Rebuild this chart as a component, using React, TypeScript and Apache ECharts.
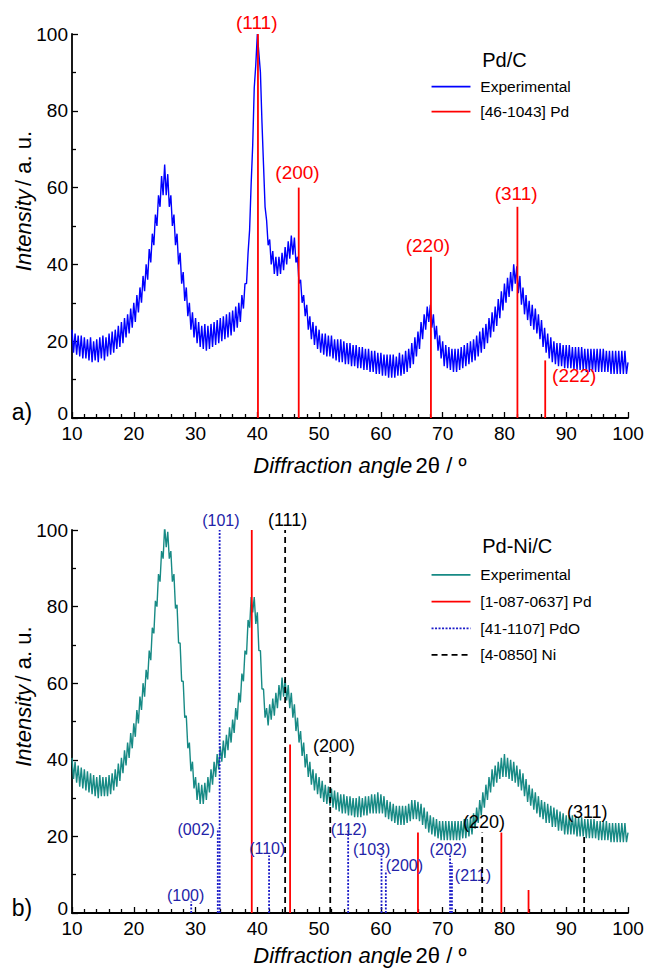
import React, { useEffect, useRef } from "react";
import * as echarts from "echarts";

// ---------- data ----------
const angleStart = 10;
const angleStep = 0.25;

// Pd/C experimental pattern, 10°..100° every 0.25°
const pdcIntensity = [
  23, 17, 22, 16.5, 21.5, 16, 21.5, 15.5, 21, 15.5, 20.5, 15, 21, 14.5, 20, 15, 20.5, 14.5, 21, 15.5,
  21.5, 15, 21, 16, 22, 16.5, 22.5, 17, 23, 18, 24, 18.5, 25, 19.5, 26, 21, 27, 22, 28.5, 23.5,
  30, 25, 32, 27.5, 34, 30, 37, 33, 40, 36, 44, 40.5, 48, 45, 53, 50, 58, 55, 63, 58,
  66, 58, 63.5, 55, 58, 50, 53, 45, 48, 40, 43, 35, 38, 30.5, 34, 26.5, 30, 23, 27.5, 21,
  26, 19.5, 25, 18.5, 24, 18, 24.5, 17.5, 24, 18, 24.5, 18.5, 25, 19, 25.5, 19.5, 26, 20, 26.5, 20.5,
  27, 21, 27.5, 21.5, 28, 22.5, 29, 23.5, 30, 25, 32, 28.5, 35, 35, 43, 49, 61, 71, 86, 92,
  100, 95, 90, 77, 66, 55, 51.5, 45, 46.5, 40, 43.5, 37.5, 42, 37, 42, 37.5, 43, 38.5, 44.5, 40,
  46, 41.5, 47.5, 42.5, 47, 40.5, 42, 35, 36, 30, 32, 26.5, 29.5, 23, 26.5, 20.5, 25, 19, 24, 18,
  23, 17, 22, 16.5, 22, 16, 21.5, 16, 21.5, 15.5, 20.5, 15, 20.5, 14.5, 20.5, 14.5, 20, 14, 19.5, 14,
  19.5, 13.5, 19, 13.5, 19, 13, 18.5, 13, 18.5, 12.5, 18, 12.5, 18, 12, 17.5, 12, 17.5, 11.5, 17, 11.5,
  17, 11, 16.5, 11, 16.5, 10.5, 16.5, 10.5, 16.5, 10.5, 16, 11, 17, 11, 16.5, 11.5, 17.5, 12, 18, 13,
  19.5, 14, 21, 16, 22.5, 18, 25, 20.5, 27, 23, 29, 25, 29.5, 23.5, 27, 20.5, 24, 17.5, 21.5, 15.5,
  20, 13.5, 19, 13, 18.5, 12.5, 18, 12, 18, 12, 18, 12.5, 18.5, 13, 19, 13.5, 19.5, 14, 20, 14.5,
  20.5, 15, 21.5, 16, 22.5, 17, 23.5, 18, 24.5, 19.5, 26, 21, 27.5, 22.5, 29, 24, 31, 26, 33, 28,
  35, 30, 36.5, 31.5, 38, 33, 40, 35, 39.5, 32.5, 37, 29.5, 34, 27, 32, 25.5, 30.5, 24, 29.5, 23,
  28.5, 22, 27, 20.5, 25.5, 18.5, 23.5, 17, 22, 15.5, 21, 14.5, 20, 14, 19.5, 13.5, 19.5, 13.5, 19, 13,
  19, 13, 19, 13, 18.5, 12.5, 18.5, 12.5, 18.5, 12.5, 18.5, 12.5, 18, 12, 18, 12, 18, 12, 18, 12,
  18, 12, 18, 12, 18, 12, 17.5, 12, 17.5, 11.5, 17.5, 11.5, 17.5, 11.5, 17.5, 11.5, 17.5, 11.5, 17.5, 11.5,
  14.5,
];

// Pd-Ni/C experimental pattern, 10°..100° every 0.25°
const pdniIntensity = [
  40.5, 35, 39.5, 34, 38.5, 33, 38, 32.5, 37.5, 32, 37, 31.5, 36.5, 31, 36, 30.5, 35.5, 30, 36, 30.5,
  35.5, 30.5, 35.5, 30.5, 36, 31, 36.5, 32, 37.5, 33, 39, 34.5, 40.5, 36.5, 42.5, 38.5, 44.5, 40.5, 47, 43,
  49.5, 46, 53, 49.5, 56.5, 53, 60, 56.5, 63.5, 61, 68.5, 66, 74.5, 73, 81.5, 80, 88.5, 86.5, 94.5, 92.5,
  101, 95.5, 99.5, 92.5, 94.5, 86.5, 88.5, 79.5, 80.5, 70.5, 70.5, 60.5, 60.5, 51, 51.5, 43, 44.5, 37, 39.5, 32.5,
  35.5, 29.5, 34, 28.5, 33.5, 28.5, 34, 29.5, 35.5, 31.5, 37.5, 33.5, 39.5, 35.5, 41.5, 37.5, 43.5, 39.5, 45, 40.5,
  46.5, 42.5, 48.5, 44.5, 50.5, 47, 53.5, 50.5, 57.5, 55, 62.5, 60.5, 68.5, 67.5, 76.5, 74.5, 82.5, 78.5, 82.5, 75.5,
  78.5, 68.5, 68.5, 58.5, 58.5, 51, 53.5, 49, 54.5, 50.5, 56, 51.5, 57.5, 53.5, 59.5, 55.5, 61.5, 56.5, 61, 55.5,
  59.5, 53.5, 57.5, 51, 54.5, 47.5, 51, 44.5, 47.5, 41, 44.5, 38, 41.5, 35.5, 39.5, 33.5, 37.5, 32, 36.5, 31,
  35.5, 30, 34.5, 29, 33.5, 28.5, 33, 28, 32.5, 27.5, 32, 27, 31.5, 26.5, 31, 26, 31, 26, 30.5, 25.5,
  30.5, 25.5, 30, 25, 30, 25, 30.5, 25, 30, 25.5, 30.5, 25.5, 30.5, 26, 31, 26, 31, 26, 31.5, 26,
  31, 26, 30.5, 25, 29.5, 24.5, 29, 24, 28.5, 23.5, 28, 23, 28, 23, 28, 23, 28, 23.5, 28.5, 24,
  29.5, 24.5, 29.5, 24.5, 29, 24, 28.5, 23, 27.5, 22, 26.5, 21, 25.5, 20.5, 25, 20, 24.5, 19.5, 24, 19,
  24, 19, 24, 19, 24, 19, 24, 19, 24, 19, 24, 19, 24, 19.5, 24.5, 19.5, 24.5, 20, 25, 20.5,
  26, 22, 27.5, 23.5, 29.5, 25.5, 31.5, 27.5, 33.5, 29.5, 35.5, 31.5, 37.5, 33, 38.5, 34, 39.5, 35, 40.5, 35.5,
  41.5, 35.5, 40.5, 35, 40, 34.5, 39.5, 34, 38.5, 33, 37.5, 32, 36.5, 30.5, 35, 29, 33.5, 28, 32.5, 27,
  31.5, 26, 30.5, 25, 29.5, 24.5, 29, 23.5, 28.5, 23.5, 28, 22.5, 27.5, 22.5, 27, 21.5, 26.5, 21.5, 26, 20.5,
  25.5, 20.5, 25.5, 20.5, 25.5, 20.5, 25, 20, 25, 20, 25, 20, 24.5, 19.5, 24.5, 19.5, 24.5, 19.5, 24.5, 19.5,
  24, 19, 24, 19, 24, 19, 24, 19, 23.5, 18.5, 23.5, 18.5, 23.5, 18.5, 23.5, 18.5, 23.5, 18.5, 23.5, 18.5,
  21,
];

// reference sticks, panel a: [46-1043] Pd
const pdA_angles = [40.1, 46.7, 68.1, 82.1, 86.6];
const pdA_heights = [100, 60, 42, 55, 15];
const pdA_labels = ["(111)", "(200)", "(220)", "(311)", "(222)"];
const pdA_labelAt = [[39.9, 102.9], [46.5, 64.0], [67.6, 45.0], [81.9, 58.4], [91.3, 11.1]];

// panel b: [1-087-0637] Pd
const pdB_angles = [39.1, 45.3, 66.0, 79.5, 83.9];
const pdB_heights = [100, 44, 21, 21, 6];

// panel b: [41-1107] PdO
const pdo_angles = [29.3, 33.6, 33.9, 41.9, 54.7, 60.1, 60.8, 71.2, 71.5];
const pdo_heights = [3, 22, 100, 15, 22, 15, 11, 15, 13];
const pdo_labels = ["(100)", "(002)", "(101)", "(110)", "(112)", "(103)", "(200)", "(202)", "(211)"];
const pdo_labelAt = [[28.4, 4.6], [30.1, 21.8], [34.1, 102.6], [41.6, 16.9], [54.8, 21.8], [58.5, 16.5], [63.8, 12.5], [70.9, 16.5], [74.9, 9.9]];

// panel b: [4-0850] Ni
const ni_angles = [44.5, 51.8, 76.4, 92.9];
const ni_heights = [100, 42, 21, 20];
const ni_labels = ["(111)", "(200)", "(220)", "(311)"];
const ni_labelAt = [[44.9, 102.6], [52.4, 43.6], [76.7, 23.8], [93.4, 26.3]];

// ---------- layout ----------
const W = 654;
const H = 969;
const G1 = { left: 72, top: 34, width: 556, height: 384 };
const G2 = { left: 72, top: 530, width: 556, height: 383 };
const FONT = "'Liberation Sans', Arial, Helvetica, sans-serif";
const BLUE = "#0000ff";
const RED = "#ff0000";
const TEAL = "#178a85";
const NAVY = "#1c1cc8";
const NAVY_TXT = "#2323a8";

const px = (g: any, x: number) => g.left + ((x - 10) / 90) * g.width;
const py = (g: any, y: number) => g.top + ((100 - y) / 100) * g.height;

function stickSeries(
  gi: number,
  angles: number[],
  heights: number[],
  labels: string[] | null,
  labelAt: number[][] | null,
  color: string,
  dash: number[] | null,
  lw: number,
  txtColor: string,
  fontSize: number,
  z: number
) {
  return {
    type: "custom",
    xAxisIndex: gi,
    yAxisIndex: gi,
    clip: false,
    silent: true,
    z,
    data: angles.map((a, i) => [a, heights[i], i]),
    renderItem: (_p: any, api: any) => {
      const a = api.value(0);
      const h = api.value(1);
      const i = api.value(2);
      const p0 = api.coord([a, 0]);
      const p1 = api.coord([a, h]);
      const children: any[] = [
        {
          type: "line",
          shape: { x1: p0[0], y1: p0[1], x2: p1[0], y2: p1[1] },
          style: { stroke: color, lineWidth: lw, lineDash: dash || undefined },
        },
      ];
      if (labels && labelAt) {
        const lp = api.coord(labelAt[i]);
        children.push({
          type: "text",
          x: lp[0],
          y: lp[1],
          style: {
            text: labels[i],
            fill: txtColor,
            fontSize,
            fontFamily: FONT,
            align: "center",
            verticalAlign: "middle",
          },
        });
      }
      return { type: "group", children };
    },
  };
}

function xAxisCfg(gi: number) {
  return {
    type: "value",
    gridIndex: gi,
    min: 10,
    max: 100,
    interval: 10,
    axisLine: { show: true, onZero: false, lineStyle: { color: "#000", width: 1.8 } },
    axisTick: { show: true, inside: true, length: 6, lineStyle: { color: "#000", width: 1.3 } },
    minorTick: { show: true, splitNumber: 5, length: 4, lineStyle: { color: "#000", width: 1.3 } },
    axisLabel: { color: "#000", fontSize: 19, fontFamily: FONT, margin: 6 },
    splitLine: { show: false },
  };
}
function yAxisCfg(gi: number) {
  return {
    type: "value",
    gridIndex: gi,
    min: 0,
    max: 100,
    interval: 20,
    axisLine: { show: true, onZero: false, lineStyle: { color: "#000", width: 1.8 } },
    axisTick: { show: true, inside: true, length: 6, lineStyle: { color: "#000", width: 1.3 } },
    minorTick: { show: true, splitNumber: 2, length: 4, lineStyle: { color: "#000", width: 1.3 } },
    axisLabel: {
      color: "#000",
      fontSize: 19,
      fontFamily: FONT,
      margin: 4,
      formatter: (v: number) => (v === 0 ? "{z|0}" : String(v)),
      rich: { z: { fontSize: 19, fontFamily: FONT, color: "#000", padding: [0, 0, 10, 0] } },
    },
    splitLine: { show: false },
  };
}

function legendItem(g: any, yv: number, text: string, color: string, dash: number[] | null, lw: number) {
  const y = py(g, yv);
  return [
    {
      type: "line",
      shape: { x1: px(g, 68.2), y1: y, x2: px(g, 74.5), y2: y },
      style: { stroke: color, lineWidth: lw, lineDash: dash || undefined },
    },
    {
      type: "text",
      x: px(g, 76.1),
      y,
      style: { text, fill: "#000", fontSize: 15.5, fontFamily: FONT, align: "left", verticalAlign: "middle" },
    },
  ];
}

function axisTitles(g: any, xTitleY: number, panel: string, panelY: number) {
  return [
    {
      type: "text",
      x: px(g, 56.6),
      y: xTitleY,
      style: {
        text: "{i|Diffraction angle} {n|2θ / º}",
        fill: "#000",
        align: "center",
        verticalAlign: "middle",
        rich: {
          i: { fontStyle: "italic", fontSize: 22, fontFamily: FONT, fill: "#000" },
          n: { fontSize: 22, fontFamily: FONT, fill: "#000" },
        },
      },
    },
    {
      type: "text",
      x: 23,
      y: py(g, 56.5),
      rotation: Math.PI / 2,
      style: {
        text: "{i|Intensity} {n|/ a. u.}",
        fill: "#000",
        align: "center",
        verticalAlign: "middle",
        rich: {
          i: { fontStyle: "italic", fontSize: 22, fontFamily: FONT, fill: "#000" },
          n: { fontSize: 22, fontFamily: FONT, fill: "#000" },
        },
      },
    },
    {
      type: "text",
      x: 22,
      y: panelY,
      style: { text: panel, fill: "#000", fontSize: 23, fontFamily: FONT, align: "center", verticalAlign: "middle" },
    },
  ];
}

export default function App() {
  const ref = useRef<HTMLDivElement>(null);
  useEffect(() => {
    if (!ref.current) return;
    const chart = echarts.init(ref.current, undefined, { renderer: "svg" });
    const pdcData = pdcIntensity.map((v, i) => [angleStart + i * angleStep, v]);
    const pdniData = pdniIntensity.map((v, i) => [angleStart + i * angleStep, v]);

    const graphics: any[] = [
      ...axisTitles(G1, 465, "a)", 412),
      ...axisTitles(G2, 955, "b)", 908),
      {
        type: "text",
        x: px(G1, 76.4),
        y: py(G1, 93.2),
        style: { text: "Pd/C", fill: "#000", fontSize: 20, fontFamily: FONT, align: "left", verticalAlign: "middle" },
      },
      ...legendItem(G1, 86.3, "Experimental", BLUE, null, 1.8),
      ...legendItem(G1, 79.8, "[46-1043] Pd", RED, null, 1.8),
      {
        type: "text",
        x: px(G2, 76.4),
        y: py(G2, 95.7),
        style: { text: "Pd-Ni/C", fill: "#000", fontSize: 20, fontFamily: FONT, align: "left", verticalAlign: "middle" },
      },
      ...legendItem(G2, 88.3, "Experimental", TEAL, null, 1.8),
      ...legendItem(G2, 81.3, "[1-087-0637] Pd", RED, null, 1.8),
      ...legendItem(G2, 74.3, "[41-1107] PdO", NAVY, [2, 1.5], 1.8),
      ...legendItem(G2, 67.4, "[4-0850] Ni", "#000", [6, 4], 1.8),
    ];

    chart.setOption({
      animation: false,
      backgroundColor: "#fff",
      grid: [
        { left: G1.left, top: G1.top, width: G1.width, height: G1.height },
        { left: G2.left, top: G2.top, width: G2.width, height: G2.height },
      ],
      xAxis: [xAxisCfg(0), xAxisCfg(1)],
      yAxis: [yAxisCfg(0), yAxisCfg(1)],
      series: [
        {
          type: "line",
          xAxisIndex: 0,
          yAxisIndex: 0,
          data: pdcData,
          showSymbol: false,
          symbol: "none",
          lineStyle: { color: BLUE, width: 1.4 },
          z: 2,
        },
        {
          type: "line",
          xAxisIndex: 1,
          yAxisIndex: 1,
          data: pdniData,
          showSymbol: false,
          symbol: "none",
          lineStyle: { color: TEAL, width: 1.4 },
          z: 2,
        },
        stickSeries(0, pdA_angles, pdA_heights, pdA_labels, pdA_labelAt, RED, null, 1.8, RED, 19, 3),
        stickSeries(1, pdB_angles, pdB_heights, null, null, RED, null, 1.8, RED, 18, 3),
        stickSeries(1, pdo_angles, pdo_heights, pdo_labels, pdo_labelAt, NAVY, [2, 1.5], 1.8, NAVY_TXT, 16, 4),
        stickSeries(1, ni_angles, ni_heights, ni_labels, ni_labelAt, "#000", [6, 4], 1.8, "#000", 18, 4),
      ],
      graphic: graphics,
    });
    return () => chart.dispose();
  }, []);
  return (
    <div
      ref={ref}
      style={{ position: "absolute", left: 0, top: 0, width: W, height: H, background: "#fff" }}
    />
  );
}
